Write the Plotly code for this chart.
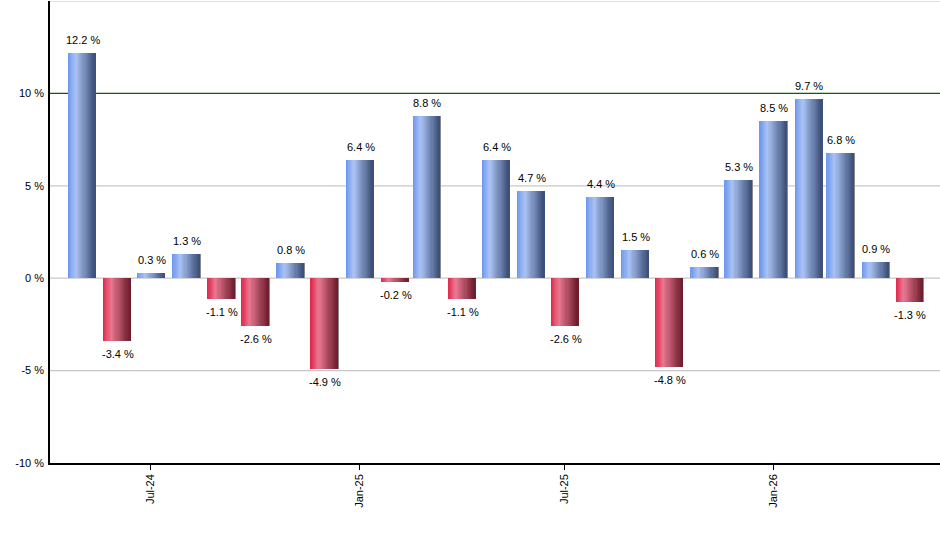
import plotly.graph_objects as go

months = ["2024-05-01", "2024-06-01", "2024-07-01", "2024-08-01", "2024-09-01", "2024-10-01",
          "2024-11-01", "2024-12-01", "2025-01-01", "2025-02-01", "2025-03-01", "2025-04-01",
          "2025-05-01", "2025-06-01", "2025-07-01", "2025-08-01", "2025-09-01", "2025-10-01",
          "2025-11-01", "2025-12-01", "2026-01-01", "2026-02-01", "2026-03-01", "2026-04-01",
          "2026-05-01"]
returns = [12.2, -3.4, 0.3, 1.3, -1.1, -2.6, 0.8, -4.9, 6.4, -0.2, 8.8, -1.1, 6.4, 4.7, -2.6,
           4.4, 1.5, -4.8, 0.6, 5.3, 8.5, 9.7, 6.8, 0.9, -1.3]
labels = [f"{v:.1f} %" for v in returns]
tick_vals = ["2024-07-01", "2025-01-01", "2025-07-01", "2026-01-01"]
tick_text = ["Jul-24", "Jan-25", "Jul-25", "Jan-26"]
y_ticks = [-10, -5, 0, 5, 10]
y_tick_text = ["-10 %", "-5 %", "0 %", "5 %", "10 %"]
grid_lines = [-5, 0, 5, 15]
ref_line = 10

DAY = 86400000
W = 23.6 * DAY  # bar width in ms
N = 24

blue = [(0x6c, 0x96, 0xee), (0xaa, 0xc3, 0xf4), (0x3b, 0x4e, 0x76)]
red = [(0xe0, 0x26, 0x4b), (0xe9, 0x78, 0x91), (0x6c, 0x1c, 0x2b)]


def grad(stops, t, peak=0.3):
    if t < peak:
        a, b, f = stops[0], stops[1], t / peak
    else:
        a, b, f = stops[1], stops[2], (t - peak) / (1 - peak)
    c = [round(a[k] + (b[k] - a[k]) * f) for k in range(3)]
    return "rgb(%d,%d,%d)" % tuple(c)


fig = go.Figure()

# shadow strip on right edge
fig.add_trace(go.Bar(
    x=months, y=returns, width=W * 0.08, offset=W / 2 - W * 0.04,
    marker=dict(color="#8a8a8a", line=dict(width=0)), hoverinfo="skip", showlegend=False))

sw = W / N
for i in range(N):
    t = (i + 0.5) / N
    cols = [grad(blue, t) if v >= 0 else grad(red, t) for v in returns]
    fig.add_trace(go.Bar(
        x=months, y=returns, width=sw * 1.6, offset=-W / 2 + i * sw,
        marker=dict(color=cols, line=dict(width=0)), hoverinfo="skip", showlegend=False))

# value labels
for m, v, lab in zip(months, returns, labels):
    fig.add_annotation(
        x=m, y=v, text=lab, showarrow=False, xshift=1,
        yanchor="bottom" if v >= 0 else "top", yshift=5 if v >= 0 else -5,
        font=dict(family="Liberation Sans, Arial, sans-serif", size=11, color="#000"))

for g in grid_lines:
    fig.add_shape(type="line", xref="paper", yref="y", x0=0, x1=1, y0=g, y1=g,
                  line=dict(color="#c8c8c8", width=1.2), layer="below")
fig.add_shape(type="line", xref="paper", yref="y", x0=0, x1=1, y0=ref_line, y1=ref_line,
              line=dict(color="#006400", width=1.2), layer="below")

fig.update_layout(
    width=940, height=550,
    margin=dict(l=50, r=0, t=1, b=87),
    barmode="overlay", bargap=0,
    plot_bgcolor="white", paper_bgcolor="white",
    font=dict(family="Liberation Sans, Arial, sans-serif", size=11, color="#000"),
    xaxis=dict(type="date", range=["2024-04-03", "2026-05-28"],
               tickvals=tick_vals, ticktext=tick_text, tickangle=-90,
               ticks="outside", ticklen=5, tickcolor="#000",
               showline=True, linecolor="#000", linewidth=1.5,
               showgrid=False, zeroline=False),
    yaxis=dict(range=[-10, 15], tickvals=y_ticks, ticktext=y_tick_text,
               showline=True, linecolor="#000", linewidth=1.5,
               showgrid=False, zeroline=False, ticks="", ticklabelstandoff=2),
)

fig.write_html("out.html")
